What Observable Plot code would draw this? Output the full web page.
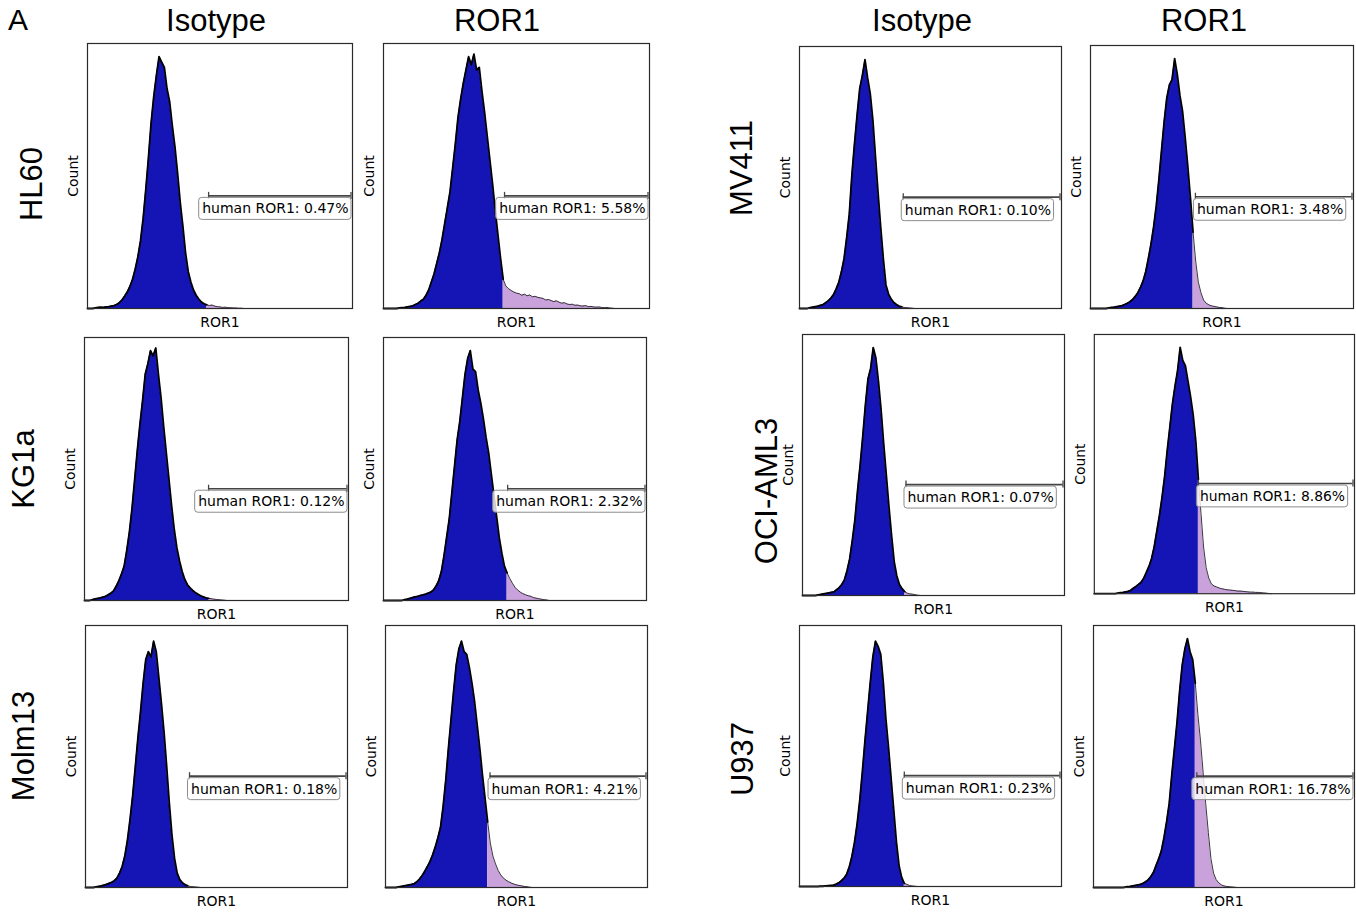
<!DOCTYPE html>
<html>
<head>
<meta charset="utf-8">
<script src="https://cdn.jsdelivr.net/npm/d3@7"></script>
<script src="https://cdn.jsdelivr.net/npm/@observablehq/plot@0.6"></script>
<style>
  html, body { margin: 0; padding: 0; background: #fff; }
  body { position: relative; width: 1356px; height: 912px; overflow: hidden; }
  .lbl { position: absolute; font-family: "Liberation Sans", Arial, sans-serif; color: #000; white-space: nowrap; line-height: 1; }
  .panel { position: absolute; }
</style>
</head>
<body>
<script>
// ---------------- DATA ----------------
const cellLines = ["HL60", "KG1a", "Molm13", "MV411", "OCI-AML3", "U937"];
const stains = ["Isotype", "ROR1"];
const markerLabel = "human ROR1";
const axisLabelX = "ROR1";
const axisLabelY = "Count";

// % positive in the ROR1 gate
const pctIsotype = [0.47, 0.12, 0.18, 0.10, 0.07, 0.23];
const pctROR1    = [5.58, 2.32, 4.21, 3.48, 8.86, 16.78];

// gate start (fraction of the ROR1 axis)
const gateIsotype = [0.457, 0.470, 0.397, 0.396, 0.395, 0.400];
const gateROR1    = [0.455, 0.472, 0.399, 0.399, 0.400, 0.396];

// histogram counts (% of modal peak), bins every 0.01 of the ROR1 axis starting at 0
const binStep = 0.01;
const hl60Iso = [0,0,0,0.2,0.4,0.5,0.4,0.6,0.7,0.9, 1.1,1.5,2.2,3.2,4.6,6.2,8.3,11,14.8,19.5, 25.5,34,45,57,70,80,88,95,93,91, 83,78,69,61,51,40,31,21,14,10, 7,5,3.6,2.4,1.8,1.4,1.1,1.3,0.9,0.7, 0.6,0.4,0.5,0.3,0.3,0.2,0.2,0.1,0.1,0,0];
const hl60Ror1 = [0,0,0,0,0,0,0.2,0.3,0.4,0.6, 0.8,1.0,1.5,2.0,2.8,3.5,5,7,10,13, 17,21,26,32,38,44,53,62,72,79, 85,90,95,92,96,90,91,82,74,65, 56,47,37,28,19,11,8.5,7.5,6.8,6.2, 5.8,5.6,5.0,5.4,4.8,5.1,4.4,4.6,4.2,4.0, 3.8,3.2,3.4,3.0,2.6,2.9,2.4,2.0,2.2,1.7, 1.5,1.6,1.2,1.3,1.0,0.9,1.1,0.7,0.8,0.6, 0.5,0.6,0.4,0.3,0.4,0.2,0.1,0,0,0];
const kg1aIso = [0,0,0,0.3,0.6,0.8,1.0,1.3,1.6,2.2, 2.8,3.6,5.4,7.5,10,13,19,26,35,46, 57,67,76,86,90,95,93,96,86,77, 66,56,46,36,27,20,15,11,8,6, 4.8,3.8,3.0,2.4,1.8,1.4,1.0,0.8,0.7,0.5, 0.4,0.3,0.2,0.1,0,0];
const kg1aRor1 = [0,0,0,0,0,0,0,0,0.3,0.5, 0.8,1.1,1.4,1.6,1.9,2.1,2.4,2.8,3.2,4.0, 5.5,7.5,11,17,24,31,41,51,61,68, 77,86,92,95,88,87,80,75,69,62, 56,48,40,32,24,18,13,10.5,8.4,6.6, 5.0,4.0,3.2,2.6,2.2,1.8,1.6,1.1,0.9,0.7, 0.5,0.3,0.2,0];
const molm13Iso = [0,0,0,0,0.2,0.4,0.6,0.9,1.2,1.6, 2.0,2.6,3.6,5.5,8,12,18,26,35,46, 57,67,78,87,90,88,94,90,80,70, 59,46,32,20,11,5.5,3.0,1.8,1.1,0.6, 0.4,0.3,0.2,0.1,0];
const molm13Ror1 = [0,0,0,0,0,0.2,0.4,0.6,0.8,1.0, 1.2,1.5,2.2,3.2,4.6,6.2,8.0,10,12.5,15.5, 19,23,31,41,53,64,75,85,91,94, 90,89,84,78,71,62,53,43,34,25, 17,12,9,6.5,4.8,3.6,2.8,2.2,1.7,1.3, 1.0,0.8,0.6,0.4,0.3,0.1,0];
const mv411Iso = [0,0,0,0,0.3,0.5,0.7,0.9,1.2,1.5, 2.2,3.0,4.0,5.3,7.5,10,14,19,27,36, 51,63,74,84,89,95,88,82,72,58, 44,31,19,9,5.5,3.6,2.3,1.5,0.9,0.6, 0.4,0.3,0.2,0.1,0];
const mv411Ror1 = [0,0,0,0,0,0,0,0.2,0.4,0.5, 0.7,0.9,1.1,1.5,2.0,2.6,3.4,4.6,6.0,8.0, 10.5,14,19,24.5,31,39,49,60,71,80, 85,87,95,89,81,75,65,54,42,29, 18,10,6,3.2,2.0,1.4,1.0,0.8,0.6,0.4, 0.3,0.1,0];
const ociIso = [0,0,0,0,0,0,0.2,0.4,0.6,0.8, 1.0,1.2,1.4,2.2,3.0,4.2,6.0,9.5,14,21, 29,40,50,61,73,83,87,95,91,82, 71,58,46,34,23,13,7.5,4.2,2.6,1.5, 0.9,0.6,0.5,0.3,0.1,0];
const ociRor1 = [0,0,0,0,0,0,0,0,0,0.2, 0.4,0.5,0.7,0.9,1.3,2.1,2.8,3.6,4.4,6.0, 8.2,10.5,13.5,18,24,30,37,45,55,64, 73,80,86,95,90,88,82,76,69,59, 44,31,18,10,6,3.8,3.0,2.6,2.2,1.9, 1.7,1.5,1.4,1.3,1.2,1.0,1.0,0.9,0.8,0.7, 0.6,0.6,0.5,0.5,0.4,0.3,0.2,0.1,0];
const u937Iso = [0,0,0,0,0,0,0,0,0.1,0.1, 0.2,0.3,0.4,0.5,0.9,1.4,2.2,3.2,4.7,7.5, 11.5,17,24,33,44,56,67,78,88,94, 92,89,78,64,53,41,29,17,8,3.5, 1.2,0.8,0.4,0.2,0.1,0];
const u937Ror1 = [0,0,0,0,0,0,0,0,0,0, 0,0,0.1,0.3,0.4,0.6,0.8,1.0,1.2,1.6, 2.2,3.0,4.2,5.8,8.5,11,14,19,25,32, 43,53,63,75,85,91,95,90,87,78, 66,56,44,32,21,11,5.5,3.0,1.8,1.0, 0.6,0.4,0.3,0.2,0.1,0];

const histIsotype = [hl60Iso, kg1aIso, molm13Iso, mv411Iso, ociIso, u937Iso];
const histROR1    = [hl60Ror1, kg1aRor1, molm13Ror1, mv411Ror1, ociRor1, u937Ror1];

// ---------------- LAYOUT ----------------
// frame boxes [left, top, width, height] per cell line: [isotype, ROR1]
const layoutBoxes = [
  [[87, 43, 265, 265], [383, 43, 266, 265]],
  [[84, 337, 264, 263], [383, 337, 263, 263]],
  [[85, 625, 262, 262], [385, 625, 262, 262]],
  [[799, 46, 262, 262], [1090, 45, 263, 263]],
  [[802, 334, 262, 261], [1094, 334, 262, 261]],
  [[799, 625, 262, 261], [1093, 625, 261, 262]]
];
const rowLabelPos = [[31, 184], [23, 469], [23, 746], [741, 168], [766, 491], [742, 759]];
const headerPos = [[216, 20], [497, 20], [922, 20], [1204, 20]];

const BLUE = "#1515b5";
const LAVENDER = "#c9a2dc";

const measureCtx = document.createElement("canvas").getContext("2d");
measureCtx.font = "14px 'DejaVu Sans'";

function addLabel(text, cx, cy, size, rotate) {
  const d = document.createElement("div");
  d.className = "lbl";
  d.textContent = text;
  d.style.left = cx + "px";
  d.style.top = cy + "px";
  d.style.fontSize = size + "px";
  d.style.transform = "translate(-50%, -50%)" + (rotate ? " rotate(-90deg)" : "");
  document.body.appendChild(d);
}

function drawPanel(values, gate, pct, box) {
  const [L, T, W, H] = box;
  const mL = 28, mR = 2, mT = 2, mB = 28;
  const pts = values.map((v, i) => ({x: +(i * binStep).toFixed(2), y: v}));
  const split = Math.floor(gate * 100 + 1e-6) / 100;
  const neg = pts.filter(d => d.x <= split + 1e-9);
  const pos = pts.filter(d => d.x >= split - 1e-9);
  const label = `${markerLabel}: ${pct.toFixed(2)}%`;
  const tw = measureCtx.measureText(label).width;
  const px2y = p => p * 100 / H;   // pixels -> y data units
  const barY = 42.5;                // bar height in y units
  const textStartPx = Math.min(gate * W + 1.5, W - 4 - tw);
  const xEnd = (W - 1.5) / W;

  const chart = Plot.plot({
    width: W + mL + mR,
    height: H + mT + mB,
    marginLeft: mL, marginRight: mR, marginTop: mT, marginBottom: mB,
    x: {domain: [0, 1], axis: null},
    y: {domain: [0, 100], axis: null},
    style: {background: "transparent", overflow: "visible", fontFamily: "DejaVu Sans"},
    marks: [
      Plot.areaY(neg, {x: "x", y: "y", fill: BLUE, curve: "linear"}),
      Plot.areaY(pos, {x: "x", y: "y", fill: LAVENDER, curve: "linear"}),
      Plot.line(pos, {x: "x", y: "y", stroke: "#222", strokeWidth: 0.9}),
      Plot.line(neg, {x: "x", y: "y", stroke: "#000", strokeWidth: 1.8}),
      Plot.frame({stroke: "#2a2a2a", strokeWidth: 1.2}),
      Plot.ruleY([barY], {x1: gate, x2: xEnd, stroke: "#444", strokeWidth: 1.7}),
      Plot.ruleX([gate, xEnd], {y1: barY - px2y(3.5), y2: barY + px2y(3.5), stroke: "#444", strokeWidth: 1.3}),
      Plot.rect([0], {
        x1: (textStartPx - 3) / W, x2: (textStartPx + tw + 3) / W,
        y1: barY - px2y(2), y2: barY - px2y(24),
        fill: "white", fillOpacity: 0.8, stroke: "#8c8c8c", strokeWidth: 1, rx: 3
      }),
      Plot.text([label], {
        x: textStartPx / W, y: barY - px2y(13), text: d => d,
        textAnchor: "start", lineAnchor: "middle", fontSize: 14, fill: "#000"
      }),
      Plot.text([axisLabelY], {frameAnchor: "left", rotate: -90, dx: -14, text: d => d, lineAnchor: "middle", textAnchor: "middle", fontSize: 14, fill: "#000"}),
      Plot.text([axisLabelX], {frameAnchor: "bottom", dy: 14, text: d => d, lineAnchor: "middle", textAnchor: "middle", fontSize: 14, fill: "#000"})
    ]
  });
  const wrap = document.createElement("div");
  wrap.className = "panel";
  wrap.style.left = (L - mL) + "px";
  wrap.style.top = (T - mT) + "px";
  wrap.appendChild(chart);
  document.body.appendChild(wrap);
}

cellLines.forEach((name, i) => {
  drawPanel(histIsotype[i], gateIsotype[i], pctIsotype[i], layoutBoxes[i][0]);
  drawPanel(histROR1[i], gateROR1[i], pctROR1[i], layoutBoxes[i][1]);
  addLabel(name, rowLabelPos[i][0], rowLabelPos[i][1], 31, true);
});

addLabel("A", 18, 20, 30, false);
headerPos.forEach((p, i) => addLabel(stains[i % 2], p[0], p[1], 31, false));
</script>
</body>
</html>
